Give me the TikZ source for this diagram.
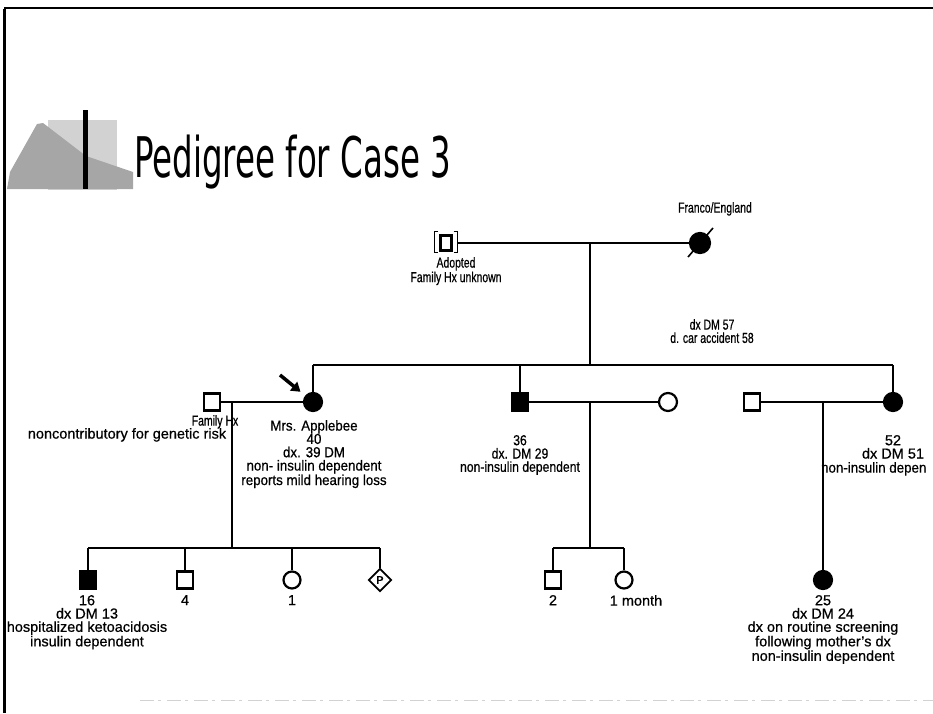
\documentclass[tikz,border=0pt]{standalone}
\usepackage{graphicx}
\usepackage{fontspec}
\setmainfont{Liberation Sans}[FakeBold=0.6]
\newfontfamily\narrowA{Liberation Sans}[FakeStretch=0.72, FakeBold=0.6]
\newfontfamily\narrowB{Liberation Sans}[FakeStretch=0.84, FakeBold=0.6]
\newfontfamily\narrowC{Liberation Sans}[FakeStretch=0.92, FakeBold=0.6]
\newfontfamily\titlefont{DejaVu Sans}
\usetikzlibrary{shapes.geometric,arrows.meta}
\begin{document}
\begin{tikzpicture}[x=1pt,y=-1pt,
  line width=2.2pt,
  male/.style={draw, rectangle, minimum width=16pt, minimum height=17pt, inner sep=0pt},
  female/.style={draw, circle, minimum size=18pt, inner sep=0pt},
  affected/.style={fill=black},
  lbl/.style={font=\fontsize{14.5}{13.3}\selectfont, align=center, inner sep=0pt, anchor=north},
  proband/.style={-{Triangle[length=9pt,width=11pt]}, line width=3.5pt, shorten >=6pt}]
\useasboundingbox (0,0) rectangle (933,713);

% slide frame
\draw[line width=3pt] (4,713) -- (4,9);
\draw[line width=2pt] (4,8) -- (933,8);
\draw[gray!35, line width=0.8pt, dash pattern=on 14pt off 4pt on 3pt off 6pt] (140,700) -- (933,700);

% logo
\fill[gray!35] (48,120) rectangle (117,190);
\fill[gray!70] (7,189) -- (10,172) -- (37,124) -- (43,123) -- (86,156) -- (133,172) -- (133,189) -- cycle;
\fill[black] (83,110) rectangle (88,189);

% title
\node[anchor=base west, inner sep=0pt] (title) at (133,177)
  {\scalebox{0.58}[1]{\titlefont\fontsize{56}{60}\selectfont Pedigree for Case 3}};

% generation I
\node[draw, rectangle, minimum width=11pt, minimum height=15pt, inner sep=0pt] (adopt) at (446,243) {};
\draw[line width=1.6pt] ([shift={(-1,-3)}]adopt.north west) -- ++(-4,0) -- ++(0,21) -- ++(4,0);
\draw[line width=1.6pt] ([shift={(1,-3)}]adopt.north east) -- ++(4,0) -- ++(0,21) -- ++(-4,0);
\node[female, affected, minimum size=20pt] (gm) at (700,243) {};
\draw[line width=1.6pt] ([shift={(-12,14)}]gm.center) -- ([shift={(13,-15)}]gm.center);
\draw ([xshift=5pt]adopt.east) -- (gm);
\coordinate (m1) at (590,243);
\coordinate (s1) at (590,365);
\draw (m1) -- (s1);

\node[lbl, font=\fontsize{14.5}{13.3}\narrowA] (franco) at (715,201) {Franco/England};
\node[lbl, font=\fontsize{14.5}{13.3}\narrowA] (adoptlbl) at (456,256) {Adopted\\Family Hx unknown};
\node[lbl, font=\fontsize{14.5}{13.3}\narrowA] (gmlbl) at (712,318) {dx DM 57\\d. car accident 58};

% generation II
\coordinate (s2a) at (313,365);
\coordinate (s2b) at (520,365);
\coordinate (s2c) at (893,365);
\draw (s2a) -- (s2c);

\node[female, affected] (applebee) at (313,402) {};
\node[male] (husb1) at (212,402) {};
\draw (husb1) -- (applebee);
\draw (s2a) -- (applebee);
\coordinate (pa) at (280,375);
\draw[proband] (pa) -- (applebee);

\node[male, affected] (son36) at (520,402) {};
\node[female] (wife36) at (668,402) {};
\draw (son36) -- (wife36);
\draw (s2b) -- (son36);

\node[male] (husb52) at (752,402) {};
\node[female, affected] (dau52) at (893,402) {};
\draw (husb52) -- (dau52);
\draw (s2c) -- (dau52);

\node[lbl, font=\fontsize{14.5}{13.3}\narrowA] (famhx) at (215,414) {Family Hx};
\node[lbl] (noncontrib) at (127,427) {noncontributory for genetic risk};
\node[lbl, font=\fontsize{14.5}{13.3}\narrowC] (applebeelbl) at (314,419) {Mrs. Applebee\\40\\dx. 39 DM\\non- insulin dependent\\reports mild hearing loss};
\node[lbl, font=\fontsize{14.5}{13.3}\narrowB] (son36lbl) at (520,434) {36\\dx. DM 29\\non-insulin dependent};
\node[lbl] (dau52lbl) at (893,434) {52\\dx DM 51};
\node[lbl, anchor=north west, font=\fontsize{14.5}{13.3}\narrowC] (dau52cut) at (820,461) {non-insulin depen};

% generation III: Applebee children
\coordinate (m2) at (232,402);
\coordinate (c2) at (232,548);
\draw (m2) -- (c2);
\coordinate (k1) at (88,548);
\coordinate (k2) at (185,548);
\coordinate (k3) at (292,548);
\coordinate (k4) at (380,548);
\draw (k1) -- (k4);
\node[male, affected] (kid16) at (88,580) {};
\node[male] (kid4) at (185,580) {};
\node[female, minimum size=17pt] (kid1) at (292,580) {};
\node[diamond, draw, line width=1.8pt, minimum size=23pt, inner sep=0pt,
      font=\fontsize{11}{11}\selectfont] (preg) at (380,580) {P};
\draw (k1) -- (kid16);
\draw (k2) -- (kid4);
\draw (k3) -- (kid1);
\draw (k4) -- (preg);

\node[lbl] (kid16lbl) at (87,594) {16\\dx DM 13\\hospitalized ketoacidosis\\insulin dependent};
\node[lbl] (kid4lbl) at (185,594) {4};
\node[lbl] (kid1lbl) at (292,594) {1};

% generation III: children of the son
\coordinate (m3) at (590,402);
\coordinate (c3) at (590,548);
\draw (m3) -- (c3);
\coordinate (k5) at (553,548);
\coordinate (k6) at (624,548);
\draw (k5) -- (k6);
\node[male] (kid2) at (553,580) {};
\node[female, minimum size=17pt] (kidm) at (624,580) {};
\draw (k5) -- (kid2);
\draw (k6) -- (kidm);
\node[lbl] (kid2lbl) at (553,594) {2};
\node[lbl] (kidmlbl) at (636,594) {1 month};

% generation III: daughter of the affected sister
\coordinate (m4) at (823,402);
\node[female, affected] (kid25) at (823,580) {};
\draw (m4) -- (kid25);
\node[lbl] (kid25lbl) at (823,594) {25\\dx DM 24\\dx on routine screening\\following mother's dx\\non-insulin dependent};
\end{tikzpicture}
\end{document}
